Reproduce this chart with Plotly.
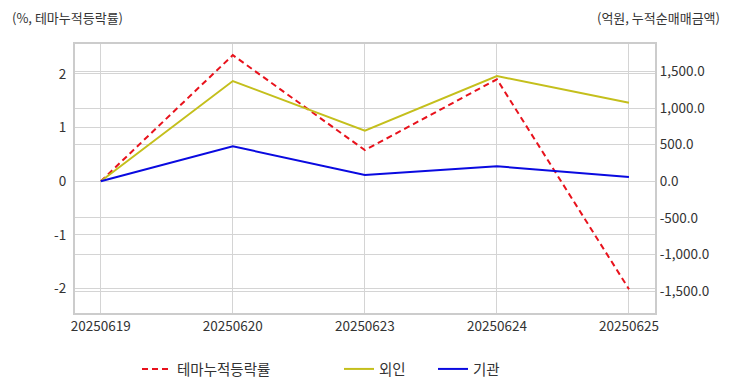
import plotly.graph_objects as go

dates = ['20250619', '20250620', '20250623', '20250624', '20250625']
theme_rate = [0, 2.35, 0.58, 1.90, -2.01]
foreign = [0, 1370, 691, 1438, 1074]
institution = [0, 478, 86, 205, 59]

left_ticks = [-2, -1, 0, 1, 2]
right_ticks = [-1500, -1000, -500, 0, 500, 1000, 1500]

FONT = "Noto Sans CJK KR"
GRID = "#d4d4d4"
TXT = "#333333"

# page body has an 8px margin: figure coords = page coords - 8
OFF = 8
W, H = 732 - OFF, 392 - OFF
L, R, T, B = 74.5 - OFF, 655.5 - OFF, 44 - OFF, 313 - OFF

fig = go.Figure()
fig.add_trace(go.Scatter(x=dates, y=theme_rate, name="테마누적등락률", mode="lines",
                         line=dict(color="#e8121c", width=2, dash="6px,4px"), yaxis="y",
                         legend="legend"))
fig.add_trace(go.Scatter(x=dates, y=foreign, name="외인", mode="lines",
                         line=dict(color="#c4bf1c", width=2), yaxis="y2",
                         legend="legend2"))
fig.add_trace(go.Scatter(x=dates, y=institution, name="기관", mode="lines",
                         line=dict(color="#0a0ae0", width=2), yaxis="y2",
                         legend="legend3"))


def lg(xpx):
    return dict(orientation="h", x=(xpx - OFF) / W, xref="container", xanchor="left",
                y=1 - (369 - OFF) / H, yref="container", yanchor="middle",
                font=dict(family=FONT, size=14.5, color=TXT), bgcolor="rgba(0,0,0,0)")


def fmt_left(v):
    return str(v)


def fmt_right(v):
    s = f"{abs(v):,.1f}"
    return ("-" + s) if v < 0 else s


fig.update_layout(
    width=W, height=H,
    margin=dict(l=L, r=W - R, t=T, b=H - B),
    paper_bgcolor="white", plot_bgcolor="white",
    font=dict(family=FONT, size=13.5, color=TXT),
    showlegend=True,
    legend=lg(137), legend2=lg(339), legend3=lg(433),
    xaxis=dict(type="category", range=[-0.195, 4.197], showgrid=True, gridcolor=GRID,
               gridwidth=1, showline=True, linecolor="#cccccc", linewidth=2, mirror=True,
               ticks="", tickfont=dict(family=FONT, size=13.5, color=TXT), zeroline=False),
    yaxis=dict(range=[-2.453, 2.557], tickvals=left_ticks,
               ticktext=[fmt_left(v) for v in left_ticks],
               showgrid=True, gridcolor=GRID,
               gridwidth=1, zeroline=False, showline=True, linecolor="#cccccc", linewidth=2,
               mirror=True, ticks="outside", ticklen=4, tickcolor="rgba(0,0,0,0)",
               tickfont=dict(family=FONT, size=13.5, color=TXT)),
    yaxis2=dict(range=[-1800, 1876], tickvals=right_ticks,
                ticktext=[fmt_right(v) for v in right_ticks],
                overlaying="y", side="right", showgrid=True, gridcolor=GRID, gridwidth=1,
                zeroline=False, ticks="outside", ticklen=1, tickcolor="rgba(0,0,0,0)",
                tickfont=dict(family=FONT, size=13.5, color=TXT)),
    annotations=[
        dict(text="(%, 테마누적등락률)", xref="paper", yref="paper",
             x=(10 - OFF - L) / (R - L), y=(B - (17 - OFF)) / (B - T),
             xanchor="left", yanchor="middle", borderpad=0,
             showarrow=False, font=dict(family=FONT, size=13, color=TXT)),
        dict(text="(억원, 누적순매매금액)", xref="paper", yref="paper",
             x=(722 - OFF - L) / (R - L), y=(B - (17 - OFF)) / (B - T),
             xanchor="right", yanchor="middle", borderpad=0,
             showarrow=False, font=dict(family=FONT, size=13, color=TXT)),
    ],
)

fig.write_html("out.html")
